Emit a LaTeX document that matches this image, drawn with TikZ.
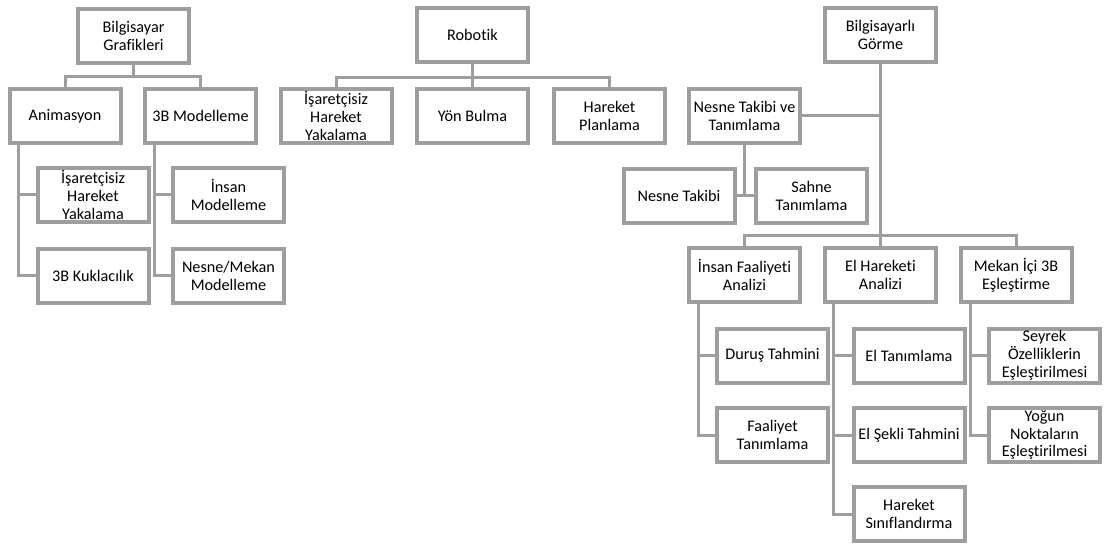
\documentclass[tikz,border=0pt]{standalone}
\usepackage{fontspec}
\setmainfont{Carlito}[Ligatures=NoCommon]
\definecolor{linegray}{HTML}{9E9E9E}
\tikzset{
  box/.style={draw=linegray, line width=4pt, fill=white, align=center,
    minimum width=111pt, minimum height=54pt, inner sep=0pt,
    font=\fontsize{16.2}{17.8}\selectfont},
  conn/.style={draw=linegray, line width=3pt},
}
\begin{document}
\begin{tikzpicture}[x=1pt,y=-1pt]
\useasboundingbox (0,0) rectangle (1105,545);
% Bilgisayar Grafikleri
\node[box] (bg) at (133.5,36) {Bilgisayar\\Grafikleri};
\node[box] (anim) at (65,116) {Animasyon};
\node[box] (mod) at (200.5,116) {3B Modelleme};
\node[box] (gI) at (93,195) {İşaretçisiz\\Hareket\\Yakalama};
\node[box] (kuk) at (93,276) {3B Kuklacılık};
\node[box] (im) at (228.5,195) {İnsan\\Modelleme};
\node[box] (nm) at (228.5,276) {Nesne/Mekan\\Modelleme};
% Robotik
\node[box] (rob) at (472.5,35) {Robotik};
\node[box] (rI) at (336,116) {İşaretçisiz\\Hareket\\Yakalama};
\node[box] (yb) at (472.5,116) {Yön Bulma};
\node[box] (hp) at (609.5,116) {Hareket\\Planlama};
% Bilgisayarli Gorme
\node[box] (bgr) at (880.5,35) {Bilgisayarlı\\Görme};
\node[box] (nt) at (744.5,116) {Nesne Takibi ve\\Tanımlama};
\node[box] (ntk) at (679,196) {Nesne Takibi};
\node[box] (st) at (811.5,196) {Sahne\\Tanımlama};
\node[box] (ifa) at (744.5,275) {İnsan Faaliyeti\\Analizi};
\node[box] (eha) at (880.5,275) {El Hareketi\\Analizi};
\node[box] (mek) at (1016,275) {Mekan İçi 3B\\Eşleştirme};
\node[box] (dt) at (772.5,355.5) {Duruş Tahmini};
\node[box] (ft) at (772.5,435) {Faaliyet\\Tanımlama};
\node[box] (et) at (909,355.5) {El Tanımlama};
\node[box] (est) at (909,435) {El Şekli Tahmini};
\node[box] (hs) at (909,514) {Hareket\\Sınıflandırma};
\node[box] (sey) at (1044.5,355.5) {Seyrek\\Özelliklerin\\Eşleştirilmesi};
\node[box] (yog) at (1044.5,435) {Yoğun\\Noktaların\\Eşleştirilmesi};
% connectors
\coordinate (j1) at (133.5,77);
\draw[conn] (bg.south) -- (j1) -| (anim.north);
\draw[conn] (j1) -| (mod.north);
\draw[conn] ([xshift=11pt]anim.south west) |- (gI.west);
\draw[conn] ([xshift=11pt]anim.south west) |- (kuk.west);
\draw[conn] ([xshift=11pt]mod.south west) |- (im.west);
\draw[conn] ([xshift=11pt]mod.south west) |- (nm.west);
\coordinate (j2) at (472.5,78);
\draw[conn] (rob.south) -- (yb.north);
\draw[conn] (j2) -| (rI.north);
\draw[conn] (j2) -| (hp.north);
\draw[conn] (bgr.south) -- (eha.north);
\draw[conn] (nt.east) -- (nt.east -| bgr.south);
\draw[conn] (nt.south) -- (nt.south |- ntk.east);
\draw[conn] (ntk.east) -- (st.west);
\coordinate (j3) at (880.5,236);
\draw[conn] (j3) -| (ifa.north);
\draw[conn] (j3) -| (mek.north);
\draw[conn] ([xshift=11pt]ifa.south west) |- (dt.west);
\draw[conn] ([xshift=11pt]ifa.south west) |- (ft.west);
\draw[conn] ([xshift=10pt]eha.south west) |- (et.west);
\draw[conn] ([xshift=10pt]eha.south west) |- (est.west);
\draw[conn] ([xshift=10pt]eha.south west) |- (hs.west);
\draw[conn] ([xshift=12pt]mek.south west) |- (sey.west);
\draw[conn] ([xshift=12pt]mek.south west) |- (yog.west);
\end{tikzpicture}
\end{document}
